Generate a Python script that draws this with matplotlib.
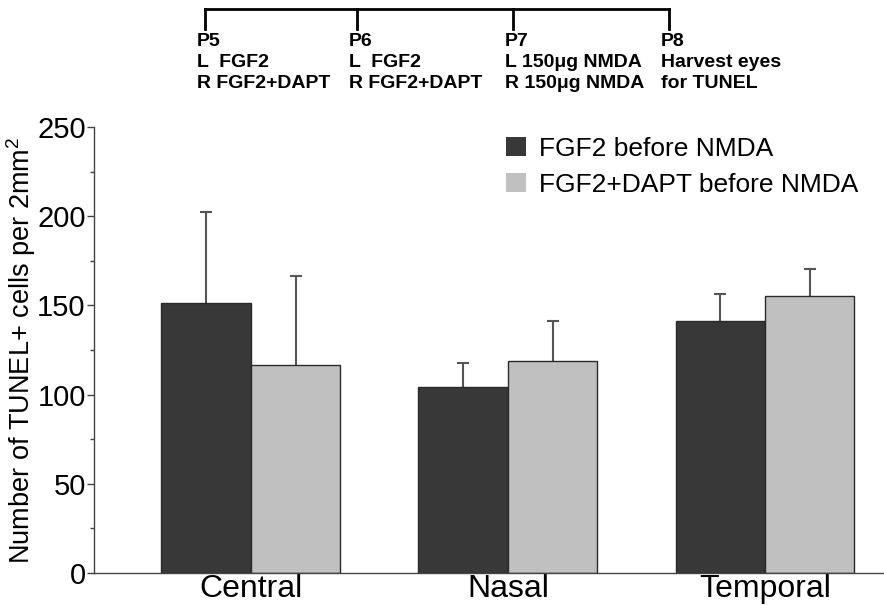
import matplotlib
matplotlib.use("Agg")
import matplotlib.pyplot as plt
from matplotlib.patches import Patch
import numpy as np

plt.rcParams['font.family'] = ['Liberation Sans', 'DejaVu Sans']
plt.rcParams['mathtext.fontset'] = 'custom'
plt.rcParams['mathtext.rm'] = 'Liberation Sans'
plt.rcParams['mathtext.default'] = 'regular'

# data
regions = ['Central', 'Nasal', 'Temporal']
fgf2 = [151.5, 104, 141.5]
fgf2_err = [51, 13.5, 15]
fgf2_dapt = [116.5, 119, 155.5]
fgf2_dapt_err = [50, 22, 15]
series_names = ['FGF2 before NMDA', 'FGF2+DAPT before NMDA']

# timeline at the top
days = ['P5', 'P6', 'P7', 'P8']
left_eye = ['L  FGF2', 'L  FGF2', 'L 150\u03bcg NMDA', 'Harvest eyes']
right_eye = ['R FGF2+DAPT', 'R FGF2+DAPT', 'R 150\u03bcg NMDA', 'for TUNEL']

dark = '#383838'
light = '#c0c0c0'
edge = '#2a2a2a'
errc = '#555555'

W, H = 884, 605
fig = plt.figure(figsize=(W / 100, H / 100), dpi=100)
ax = fig.add_axes([94 / W, 1 - 573 / H, 1 - 94 / W, (573 - 127) / H])

x = np.arange(len(regions))
w = 0.348
ax.bar(x - w / 2, fgf2, w, color=dark, edgecolor=edge, linewidth=1, zorder=2)
ax.bar(x + w / 2, fgf2_dapt, w, color=light, edgecolor=edge, linewidth=1, zorder=2)
for xs, ys, es in [(x - w / 2, fgf2, fgf2_err), (x + w / 2, fgf2_dapt, fgf2_dapt_err)]:
    eb = ax.errorbar(xs, ys, yerr=[np.zeros(3), es], fmt='none',
                     ecolor=errc, elinewidth=1.5, capsize=4, capthick=1.5, zorder=1)
    eb[1][0].set_visible(False)  # no cap at the bar top

ax.set_xlim(-0.61, 2.463)
ax.set_ylim(0, 250)
ax.set_yticks(range(0, 251, 50))
ax.set_yticks(range(25, 250, 50), minor=True)
ax.set_xticks(x)
ax.set_xticklabels(regions, fontsize=23)
ax.tick_params(axis='x', length=0, pad=1)
ax.tick_params(axis='y', which='major', length=5, width=1, color='#444444',
               labelsize=21, pad=1)
ax.tick_params(axis='y', which='minor', length=3, width=1, color='#444444')
for s in ['top', 'right']:
    ax.spines[s].set_visible(False)
for s in ['left', 'bottom']:
    ax.spines[s].set_color('#444444')
    ax.spines[s].set_linewidth(1)

ax.set_ylabel('Number of TUNEL+ cells per 2mm$^2$', fontsize=19.5, labelpad=-1)

handles = [Patch(facecolor=dark), Patch(facecolor=light)]
ax.legend(handles, series_names, loc='upper left', bbox_to_anchor=(0.522, 0.978),
          frameon=False, fontsize=19, handlelength=0.75, handleheight=0.75,
          handletextpad=0.5, labelspacing=0.45, borderpad=0, borderaxespad=0)

# timeline drawn in figure pixel units
tx = [205, 357, 513, 669]
fig.add_artist(plt.Line2D([tx[0] / W, tx[-1] / W], [1 - 9 / H, 1 - 9 / H],
                          color='black', linewidth=2))
for i, px in enumerate(tx):
    fig.add_artist(plt.Line2D([px / W, px / W], [1 - 9 / H, 1 - 29 / H],
                              color='black', linewidth=2))
    for j, txt in enumerate([days[i], left_eye[i], right_eye[i]]):
        fig.text((px - 8) / W, 1 - (41 + 21.5 * j) / H, txt, fontsize=14,
                 fontweight='bold', ha='left', va='center')

fig.savefig('out.png', dpi=100)
